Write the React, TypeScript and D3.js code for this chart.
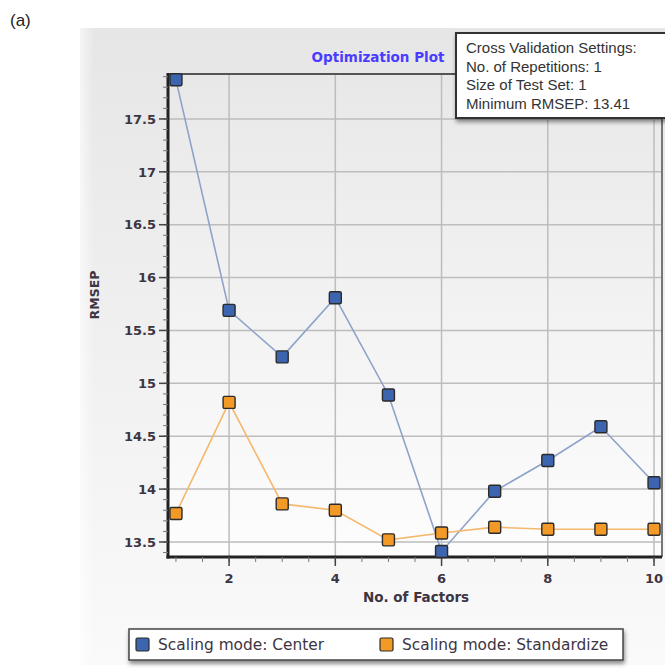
import React from "react";
import * as d3 from "d3";

const factors = [1, 2, 3, 4, 5, 6, 7, 8, 9, 10];
const centerRmsep = [17.87, 15.69, 15.25, 15.81, 14.89, 13.41, 13.98, 14.27, 14.59, 14.06];
const standardizeRmsep = [13.77, 14.82, 13.86, 13.8, 13.52, 13.585, 13.64, 13.62, 13.62, 13.62];
const yTicks = [13.5, 14, 14.5, 15, 15.5, 16, 16.5, 17, 17.5];
const xTicks = [2, 4, 6, 8, 10];
const infoLines = [
  "Cross Validation Settings:",
  "No. of Repetitions: 1",
  "Size of Test Set: 1",
  "Minimum RMSEP: 13.41",
];
const seriesNames = ["Scaling mode: Center", "Scaling mode: Standardize"];

const W = 665;
const H = 669;
const plot = { left: 168, right: 662, top: 74, bottom: 557 };

export default function App() {
  const x = d3.scaleLinear().domain([0.85, 10.15]).range([plot.left, plot.right]);
  const y = d3.scaleLinear().domain([13.358, 17.925]).range([plot.bottom, plot.top]);

  const line = d3
    .line<number>()
    .x((_, i) => x(factors[i]))
    .y((d) => y(d));

  const yMinor = d3.range(13.4, 17.91, 0.1).map((v) => Math.round(v * 10) / 10);
  const xMinor = d3.range(1, 10.01, 0.5);

  const series = [
    { values: centerRmsep, stroke: "#8ea3c9", fill: "#3d64ae" },
    { values: standardizeRmsep, stroke: "#f4b86e", fill: "#f39a26" },
  ];

  const axisFont = "Verdana, 'DejaVu Sans', sans-serif";
  const textColor = "#3d3542";
  const ms = 12;

  return (
    <svg
      width={W}
      height={H}
      style={{ position: "absolute", left: 0, top: 0, display: "block", background: "#fff" }}
    >
      <defs>
        <linearGradient id="panelBg" x1="0" y1="0" x2="0" y2="1">
          <stop offset="0" stopColor="#e6e6e6" />
          <stop offset="1" stopColor="#fafafa" />
        </linearGradient>
        <linearGradient id="panelEdge" x1="0" y1="0" x2="1" y2="0">
          <stop offset="0" stopColor="#ffffff" stopOpacity="0.6" />
          <stop offset="1" stopColor="#ffffff" stopOpacity="0" />
        </linearGradient>
        <linearGradient id="plotBg" x1="0" y1="0" x2="0" y2="1">
          <stop offset="0" stopColor="#e8e8e8" />
          <stop offset="1" stopColor="#fdfdfd" />
        </linearGradient>
        <filter id="shadow" x="-10%" y="-20%" width="120%" height="160%">
          <feDropShadow dx="1" dy="3" stdDeviation="2" floodColor="#000" floodOpacity="0.45" />
        </filter>
      </defs>

      <text x={10} y={26} fontFamily="'Liberation Sans', Arial, sans-serif" fontSize={17} fill="#222">
        (a)
      </text>

      {/* chart panel */}
      <rect x={80} y={28} width={W - 80} height={H - 28 - 4} fill="url(#panelBg)" />
      <rect x={80} y={28} width={14} height={H - 28 - 4} fill="url(#panelEdge)" />

      {/* plot area */}
      <rect
        x={plot.left}
        y={plot.top}
        width={plot.right - plot.left}
        height={plot.bottom - plot.top}
        fill="url(#plotBg)"
      />

      {/* grid */}
      {yTicks.map((t) => (
        <line key={"gy" + t} x1={plot.left} x2={plot.right} y1={y(t)} y2={y(t)} stroke="#bdbdbd" strokeWidth={1.5} />
      ))}
      {xTicks.map((t) => (
        <line key={"gx" + t} x1={x(t)} x2={x(t)} y1={plot.top} y2={plot.bottom} stroke="#bdbdbd" strokeWidth={1.5} />
      ))}

      {/* frame */}
      <line x1={plot.left} x2={plot.right} y1={plot.top} y2={plot.top} stroke="#555" strokeWidth={2} />
      <line x1={plot.right} x2={plot.right} y1={plot.top} y2={plot.bottom} stroke="#777" strokeWidth={2} />
      <line x1={plot.left} x2={plot.left} y1={plot.top - 1} y2={plot.bottom + 1.5} stroke="#222" strokeWidth={3} />
      <line x1={plot.left - 1.5} x2={plot.right} y1={plot.bottom} y2={plot.bottom} stroke="#222" strokeWidth={3} />

      {/* y ticks */}
      {yMinor.map((t) => (
        <line key={"ym" + t} x1={plot.left - 5} x2={plot.left} y1={y(t)} y2={y(t)} stroke="#777" strokeWidth={1} />
      ))}
      {yTicks.map((t) => (
        <g key={"yt" + t}>
          <line x1={plot.left - 9} x2={plot.left} y1={y(t)} y2={y(t)} stroke="#444" strokeWidth={1.5} />
          <text
            x={plot.left - 12}
            y={y(t)}
            dy="0.36em"
            textAnchor="end"
            fontFamily={axisFont}
            fontSize={13}
            fontWeight="bold"
            fill={textColor}
          >
            {t}
          </text>
        </g>
      ))}

      {/* x ticks */}
      {xMinor.map((t) => (
        <line key={"xm" + t} x1={x(t)} x2={x(t)} y1={plot.bottom} y2={plot.bottom + 5} stroke="#777" strokeWidth={1} />
      ))}
      {xTicks.map((t) => (
        <g key={"xt" + t}>
          <line x1={x(t)} x2={x(t)} y1={plot.bottom} y2={plot.bottom + 9} stroke="#444" strokeWidth={1.5} />
          <text
            x={x(t)}
            y={plot.bottom + 26}
            textAnchor="middle"
            fontFamily={axisFont}
            fontSize={13}
            fontWeight="bold"
            fill={textColor}
          >
            {t}
          </text>
        </g>
      ))}

      {/* axis titles */}
      <text
        x={416}
        y={602}
        textAnchor="middle"
        fontFamily={axisFont}
        fontSize={13.5}
        fontWeight="bold"
        fill={textColor}
      >
        No. of Factors
      </text>
      <text
        transform="translate(99,295) rotate(-90)"
        textAnchor="middle"
        fontFamily={axisFont}
        fontSize={12.5}
        fontWeight="bold"
        fill={textColor}
      >
        RMSEP
      </text>

      {/* series */}
      {series.map((s, si) => (
        <g key={"s" + si}>
          <path d={line(s.values) || ""} fill="none" stroke={s.stroke} strokeWidth={1.6} />
          {s.values.map((v, i) => (
            <rect
              key={i}
              x={x(factors[i]) - ms / 2}
              y={y(v) - ms / 2}
              width={ms}
              height={ms}
              fill={s.fill}
              stroke="#2b2b2b"
              strokeWidth={1.4}
              rx={1.5}
            />
          ))}
        </g>
      ))}

      {/* title */}
      <text
        x={378}
        y={62}
        textAnchor="middle"
        fontFamily={axisFont}
        fontSize={13.5}
        fontWeight="bold"
        fill="#4a3cff"
      >
        Optimization Plot
      </text>

      {/* settings box */}
      <g>
        <rect x={456} y={33} width={W - 456 + 10} height={85} fill="#fff" stroke="#333" strokeWidth={2} filter="url(#shadow)" />
        {infoLines.map((l, i) => (
          <text
            key={l}
            x={466}
            y={53 + i * 18.5}
            fontFamily="'Liberation Sans', Arial, sans-serif"
            fontSize={15}
            fill="#333"
          >
            {l}
          </text>
        ))}
      </g>

      {/* legend */}
      <g>
        <rect x={129} y={629} width={494} height={31} fill="#fff" stroke="#444" strokeWidth={1.5} filter="url(#shadow)" />
        {seriesNames.map((n, i) => {
          const lx = i === 0 ? 136 : 380;
          return (
            <g key={n}>
              <rect x={lx} y={638} width={13} height={13} rx={1.5} fill={series[i].fill} stroke="#2b2b2b" strokeWidth={1.2} />
              <text x={lx + 22} y={650} fontFamily={axisFont} fontSize={15.4} fill={textColor}>
                {n}
              </text>
            </g>
          );
        })}
      </g>
    </svg>
  );
}
